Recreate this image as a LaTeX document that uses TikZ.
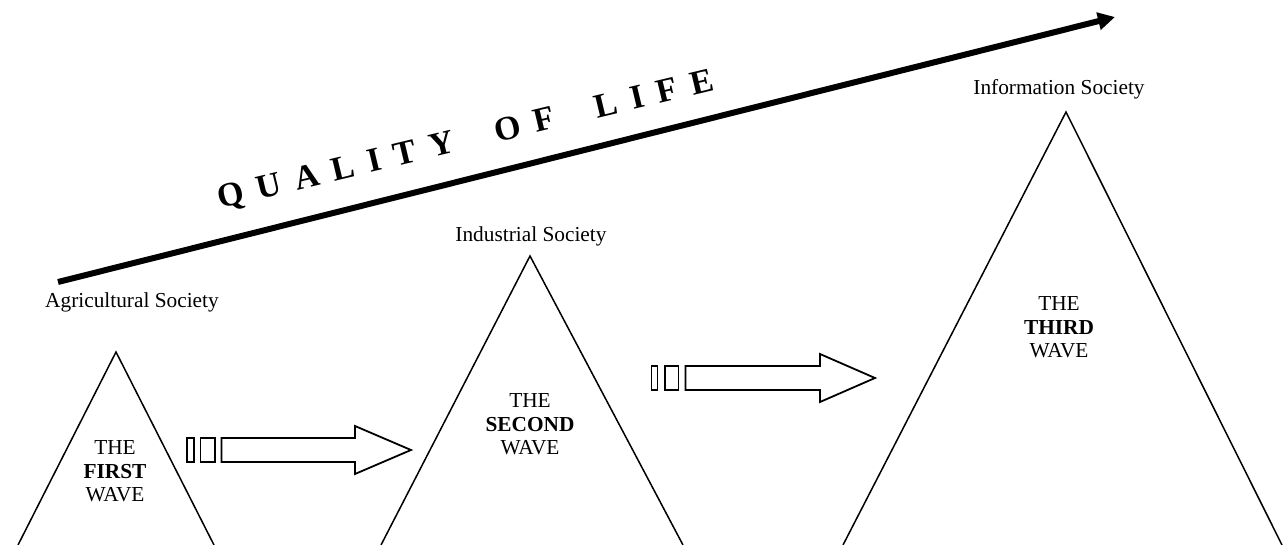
\documentclass[tikz,border=0pt]{standalone}
\usepackage{fontspec}
\setmainfont{Liberation Serif}
\usetikzlibrary{arrows.meta}
\newcommand\qsp{\hspace{14pt}}
\newcommand\qwsp{\hspace{42pt}}
\begin{document}
\begin{tikzpicture}[x=1pt,y=-1pt,
  tri/.style={line width=1.5pt},
  hol/.style={line width=1.8pt, line join=miter},
  lbl/.style={font=\fontsize{21.33}{23.4}\selectfont, inner sep=0pt, anchor=base},
  wave/.style={font=\fontsize{21.33}{23.4}\selectfont, inner sep=0pt, align=center},
  qol/.style={font=\fontsize{34}{40}\selectfont\bfseries, inner sep=0pt, rotate=13.5},
  bigarrow/.style={line width=6pt, -{Triangle[length=17pt,width=17pt]}}
]
\useasboundingbox (0,0) rectangle (1285,545);

% quality of life arrow
\coordinate (qs) at (58,282);
\coordinate (qe) at (1115,17);
\draw[bigarrow] (qs) -- (qe);
\node[qol] (qol) at (466,141) {Q\qsp U\qsp A\qsp L\qsp I\qsp T\qsp Y\qwsp O\qsp F\qwsp L\qsp I\qsp F\qsp E};

% triangles
\coordinate (a1) at (116,352);
\coordinate (l1) at (18,545);
\coordinate (r1) at (214,545);
\draw[tri] (l1) -- (a1) -- (r1);

\coordinate (a2) at (530,256);
\coordinate (l2) at (381,545);
\coordinate (r2) at (683,545);
\draw[tri] (l2) -- (a2) -- (r2);

\coordinate (a3) at (1066,112);
\coordinate (l3) at (843,545);
\coordinate (r3) at (1282,545);
\draw[tri] (l3) -- (a3) -- (r3);

% labels
\node[lbl] (agr) at (132,308) {Agricultural Society};
\node[lbl] (ind) at (531,242) {Industrial Society};
\node[lbl] (inf) at (1059,95) {Information Society};

\node[wave] (w1) at (115,471.5) {THE\\\textbf{FIRST}\\WAVE};
\node[wave] (w2) at (530,424.5) {THE\\\textbf{SECOND}\\WAVE};
\node[wave] (w3) at (1059,327.5) {THE\\\textbf{THIRD}\\WAVE};

% hollow arrows
\draw[hol] (187,438) rectangle (194,462);
\draw[hol] (200.5,438) rectangle (215,462);
\draw[hol] (221.5,438) -- (355,438) -- (355,426) -- (411,450) -- (355,474) -- (355,462) -- (221.5,462) -- cycle;

\draw[hol] (651.5,366) rectangle (657.5,390);
\draw[hol] (665,366) rectangle (678.5,390);
\draw[hol] (685.5,366) -- (820,366) -- (820,354) -- (875,378) -- (820,402) -- (820,390) -- (685.5,390) -- cycle;
\end{tikzpicture}
\end{document}
